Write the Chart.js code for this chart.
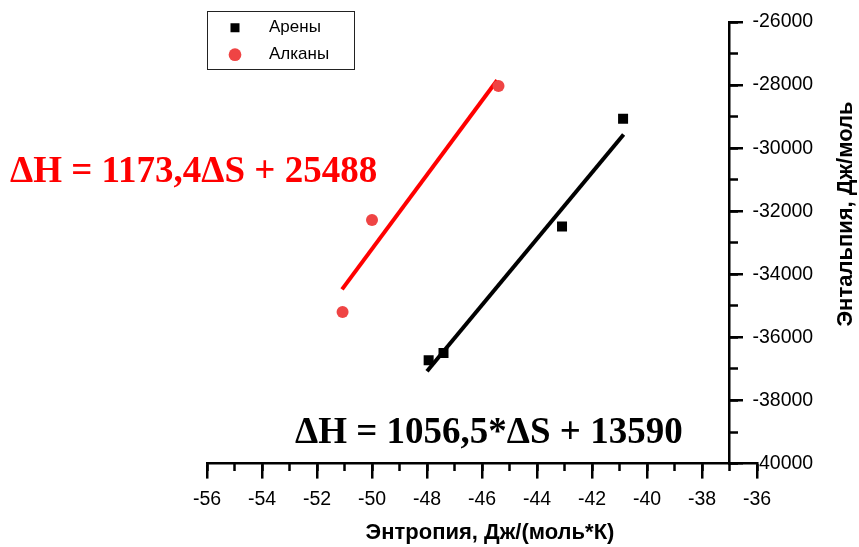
<!DOCTYPE html>
<html><head><meta charset="utf-8">
<script src="https://cdn.jsdelivr.net/npm/chart.js@4.4.1/dist/chart.umd.min.js"></script>
<style>html,body{margin:0;padding:0;background:#fff;}canvas{display:block;}</style>
</head><body>
<canvas id="c" width="859" height="547"></canvas>
<script>
const seriesNames = ['Арены', 'Алканы'];
const arenesX = [-47.94, -47.40, -43.09, -40.87];
const arenesY = [-36720, -36490, -32480, -29065];
const alkanesX = [-51.07, -50.00, -45.40];
const alkanesY = [-35195, -32280, -28030];
const arenesFitX = [-48.00, -40.85];
const arenesFitY = [-37075, -29565];
const alkanesFitX = [-51.09, -45.45];
const alkanesFitY = [-34475, -27845];
const xTicks = [-56, -54, -52, -50, -48, -46, -44, -42, -40, -38, -36];
const yTicks = [-40000, -38000, -36000, -34000, -32000, -30000, -28000, -26000];
const equations = ['ΔH = 1173,4ΔS + 25488', 'ΔH = 1056,5*ΔS + 13590'];
const xTitle = 'Энтропия, Дж/(моль*К)';
const yTitle = 'Энтальпия, Дж/моль';
const yAxisAt = -37;

const pts = (xs, ys) => xs.map((x, i) => ({x: x, y: ys[i]}));
const SANS = '"Liberation Sans", Arial, sans-serif';
Chart.defaults.font.family = SANS;
Chart.defaults.color = '#000';

const decor = {
  id: 'decor',
  afterUpdate(chart) {
    const lg = chart.legend;
    if (!lg) return;
    lg.left = 216.5; lg.top = 9.2;
    lg.right = lg.left + lg.width; lg.bottom = lg.top + 300;
  },
  afterDraw(chart) {
    const ctx = chart.ctx;
    const sx = chart.scales.x, sy = chart.scales.y;
    const axisPx = sx.getPixelForValue(yAxisAt);
    ctx.save();
    // legend frame
    ctx.strokeStyle = '#222'; ctx.lineWidth = 1;
    ctx.strokeRect(207.5, 11.5, 147, 58);
    // y tick labels (right of the axis)
    ctx.fillStyle = '#000';
    ctx.font = '19.5px ' + SANS;
    ctx.textAlign = 'left'; ctx.textBaseline = 'middle';
    yTicks.forEach(v => ctx.fillText(String(v), axisPx + 23, sy.getPixelForValue(v)));
    // x title
    ctx.font = 'bold 22px ' + SANS;
    ctx.textAlign = 'center';
    ctx.fillText(xTitle, 490, 533);
    // y title
    ctx.translate(846, 214); ctx.rotate(-Math.PI / 2);
    ctx.fillText(yTitle, 0, 0);
    ctx.restore();
    ctx.save();
    ctx.font = 'bold 37px "Liberation Serif", "Times New Roman", serif';
    ctx.textAlign = 'left'; ctx.textBaseline = 'alphabetic';
    ctx.fillStyle = '#ff0000'; ctx.fillText(equations[0], 10, 182);
    ctx.fillStyle = '#000'; ctx.fillText(equations[1], 295, 443);
    ctx.restore();
  }
};

new Chart(document.getElementById('c'), {
  type: 'scatter',
  data: {
    datasets: [
      {label: seriesNames[0], data: pts(arenesX, arenesY), pointStyle: 'rect', pointRadius: 7.07,
       backgroundColor: '#000', borderColor: '#000', borderWidth: 0, pointHoverRadius: 7.07},
      {label: seriesNames[1], data: pts(alkanesX, alkanesY), pointStyle: 'circle', pointRadius: 6,
       backgroundColor: '#ef4444', borderColor: '#ef4444', borderWidth: 0, pointHoverRadius: 6},
      {label: 'fitA', data: pts(arenesFitX, arenesFitY), showLine: true, pointRadius: 0,
       borderColor: '#000', borderWidth: 4, backgroundColor: '#000', fill: false},
      {label: 'fitB', data: pts(alkanesFitX, alkanesFitY), showLine: true, pointRadius: 0,
       borderColor: '#ff0000', borderWidth: 4, backgroundColor: '#ff0000', fill: false}
    ]
  },
  options: {
    responsive: false, animation: false, devicePixelRatio: 1,
    layout: {padding: {left: 207, right: 102, top: 22, bottom: 27}},
    plugins: {
      tooltip: {enabled: false},
      legend: {
        position: 'chartArea', align: 'start',
        labels: {
          usePointStyle: true, boxHeight: 9, padding: 10, color: '#000',
          font: {size: 17, family: SANS},
          filter: (item) => item.datasetIndex < 2,
          generateLabels(chart) {
            const items = Chart.defaults.plugins.legend.labels.generateLabels(chart);
            items.forEach(it => { it.text = '\u2003' + it.text; });
            return items;
          }
        }
      }
    },
    scales: {
      x: {
        type: 'linear', position: 'bottom', min: -56, max: -36,
        afterBuildTicks: s => { s.ticks = xTicks.map(v => ({value: v})); },
        ticks: {padding: 9, font: {size: 19.5}, color: '#000', maxRotation: 0, callback: v => String(v)},
        grid: {drawOnChartArea: false, drawTicks: true, tickLength: 15, tickWidth: 2.5, tickColor: '#000', color: '#000', lineWidth: 2.5},
        border: {display: true, color: '#000', width: 2.5},
        title: {display: false}
      },
      xMinor: {
        type: 'linear', axis: 'x', position: {y: -40000}, min: -56, max: -36,
        ticks: {display: false, stepSize: 1},
        grid: {drawOnChartArea: false, drawTicks: true, tickLength: 7, tickWidth: 2.5, tickColor: '#000'},
        border: {display: false}
      },
      y: {
        type: 'linear', position: {x: yAxisAt}, min: -40000, max: -26000,
        afterBuildTicks: s => { s.ticks = yTicks.map(v => ({value: v})); },
        ticks: {display: false},
        grid: {drawOnChartArea: false, drawTicks: true, tickLength: -15, tickWidth: 2.5, tickColor: '#000', color: '#000', lineWidth: 2.5},
        border: {display: true, color: '#000', width: 2.5}
      },
      yMinor: {
        type: 'linear', axis: 'y', position: {x: yAxisAt}, min: -40000, max: -26000,
        ticks: {display: false, stepSize: 1000},
        grid: {drawOnChartArea: false, drawTicks: true, tickLength: -8, tickWidth: 2.5, tickColor: '#000'},
        border: {display: false}
      }
    }
  },
  plugins: [decor]
});
</script>
</body></html>
